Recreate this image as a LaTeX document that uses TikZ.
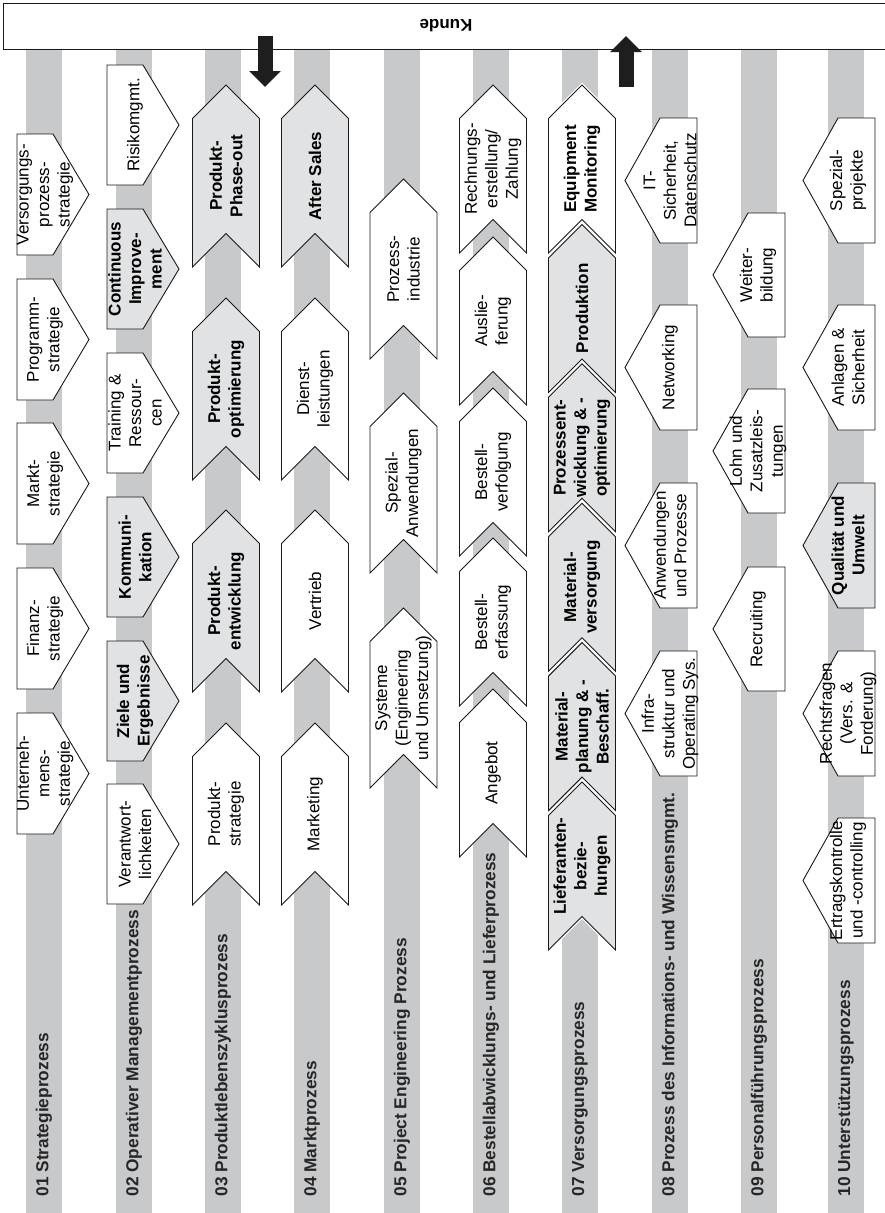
\documentclass[tikz,border=0pt]{standalone}
\usepackage{fontspec}
\setmainfont{Liberation Sans}
\usetikzlibrary{arrows.meta}
\definecolor{lanegray}{RGB}{200,201,203}
\definecolor{boxgray}{RGB}{225,226,228}
\definecolor{arrowblack}{RGB}{30,30,30}
\newcommand{\boxfont}{\fontsize{17}{20.5}\selectfont}
\tikzset{
  every picture/.style={line width=0.9pt},
  lane/.style={fill=lanegray},
  lanelab/.style={rotate=90, anchor=west, inner sep=0pt, text=black!85,
                  font=\fontsize{17.3}{20}\selectfont\bfseries},
  pbox/.style={draw=black!90, line join=miter},
  tight/.style={preaction={draw=white, line width=3.5pt}},
  boxw/.style={fill=white},
  boxg/.style={fill=boxgray},
  boxb/.style={fill=white},
  boxgt/.style={boxg, tight},
  boxbt/.style={boxb, tight},
  ptext/.style={rotate=90, align=center, inner sep=0pt, font=\boxfont},
  txtw/.style={},
  txtg/.style={font=\boxfont\bfseries},
  txtb/.style={font=\boxfont\bfseries},
  txtgt/.style={txtg},
  txtbt/.style={txtb},
  kundebox/.style={draw=black!90, fill=white, minimum width=886pt,
                   minimum height=46pt, rotate=180,
                   font=\fontsize{17}{20}\selectfont\bfseries},
  blockarr/.style={draw=arrowblack, line width=15pt,
                   -{Triangle[width=31pt,length=16pt]}},
}
% chevron pointing up: [style]{name}{x centre}{apex y}{height}{text}
\newcommand{\chev}[6][w]{%
  \draw[pbox,box#1] (#3-33.5,#4+33.5) -- (#3,#4) -- (#3+33.5,#4+33.5)
    -- (#3+33.5,#4+#5) -- (#3,#4+#5-33.5) -- (#3-33.5,#4+#5) -- cycle;
  \node[ptext,txt#1] (#2) at (#3,#4+#5/2) {#6};}
% pentagon pointing right: [style]{name}{left x}{top y}{height}{text}
\newcommand{\penr}[6][w]{%
  \draw[pbox,box#1] (#3,#4) -- (#3+36,#4) -- (#3+72,#4+#5/2)
    -- (#3+36,#4+#5) -- (#3,#4+#5) -- cycle;
  \node[ptext,txt#1] (#2) at (#3+28,#4+#5/2) {#6};}
% pentagon pointing left: [style]{name}{right x}{top y}{height}{text}
\newcommand{\penl}[6][w]{%
  \draw[pbox,box#1] (#3,#4) -- (#3-37,#4) -- (#3-72,#4+#5/2)
    -- (#3-37,#4+#5) -- (#3,#4+#5) -- cycle;
  \node[ptext,txt#1] (#2) at (#3-27,#4+#5/2) {#6};}

\begin{document}
\begin{tikzpicture}[x=1pt,y=-1pt]
\useasboundingbox (0,0) rectangle (885,1213);

% lanes
\fill[lane] (26,49) rectangle (62,1213);
\fill[lane] (116,49) rectangle (152,1213);
\fill[lane] (205,49) rectangle (241,1213);
\fill[lane] (294,49) rectangle (330,1213);
\fill[lane] (384,49) rectangle (420,1213);
\fill[lane] (473,49) rectangle (509,1213);
\fill[lane] (562,49) rectangle (598,1213);
\fill[lane] (652,49) rectangle (688,1213);
\fill[lane] (741,49) rectangle (777,1213);
\fill[lane] (828,49) rectangle (864,1213);

% customer
\node[kundebox] (kunde) at (446,26) {Kunde};
\coordinate (dntop) at (265,36);
\coordinate (dntip) at (265,87);
\coordinate (upfoot) at (626,87);
\coordinate (uptip) at (626,36);
\draw[blockarr] (dntop) -- (dntip);
\draw[blockarr] (upfoot) -- (uptip);

% 01
\penr{s1}{17}{134}{121}{Versorgungs-\\prozess-\\strategie}
\penr{s2}{17}{279}{121}{Programm-\\strategie}
\penr{s3}{17}{423}{121}{Markt-\\strategie}
\penr{s4}{17}{568}{121}{Finanz-\\strategie}
\penr{s5}{17}{713}{121}{Unterneh-\\mens-\\strategie}
% 02
\penr{m1}{107}{65}{120}{Risikomgmt.}
\penr[g]{m2}{107}{209}{120}{Continuous\\Improve-\\ment}
\penr{m3}{107}{353}{120}{Training \&\\Ressour-\\cen}
\penr[g]{m4}{107}{497}{120}{Kommuni-\\kation}
\penr[g]{m5}{107}{641}{120}{Ziele und\\Ergebnisse}
\penr{m6}{107}{784}{120}{Verantwort-\\lichkeiten}
% 03
\chev[g]{p1}{226}{85}{182}{Produkt-\\Phase-out}
\chev[g]{p2}{226}{298}{182}{Produkt-\\optimierung}
\chev[g]{p3}{226}{510}{182}{Produkt-\\entwicklung}
\chev{p4}{226}{723}{182}{Produkt-\\strategie}
% 04
\chev[g]{k1}{315}{85}{182}{After Sales}
\chev{k2}{315}{298}{182}{Dienst-\\leistungen}
\chev{k3}{315}{510}{182}{Vertrieb}
\chev{k4}{315}{723}{182}{Marketing}
% 05
\chev{e1}{403.5}{179}{180}{Prozess-\\industrie}
\chev{e2}{403.5}{393}{180}{Spezial-\\Anwendungen}
\chev{e3}{403.5}{608}{180}{Systeme\\(Engineering\\und Umsetzung)}
% 06
\chev{b1}{493}{85}{168}{Rechnungs-\\erstellung/\\Zahlung}
\chev{b2}{493}{237}{168}{Auslie-\\ferung}
\chev{b3}{493}{388}{168}{Bestell-\\verfolgung}
\chev{b4}{493}{538}{168}{Bestell-\\erfassung}
\chev{b5}{493}{689}{168}{Angebot}
% 07
\chev[bt]{v1}{582}{85}{168}{Equipment\\Monitoring}
\chev[gt]{v2}{582}{224.4}{168}{Produktion}
\chev[gt]{v3}{582}{363.8}{168}{Prozessent-\\wicklung \& -\\optimierung}
\chev[gt]{v4}{582}{503.2}{168}{Material-\\versorgung}
\chev[gt]{v5}{582}{642.6}{168}{Material-\\planung \& -\\Beschaff.}
\chev[gt]{v6}{582}{782}{168}{Lieferanten-\\bezie-\\hungen}
% 08
\penl{i1}{697}{118}{125}{IT-\\Sicherheit,\\Datenschutz}
\penl{i2}{697}{305}{125}{Networking}
\penl{i3}{697}{483}{125}{Anwendungen\\und Prozesse}
\penl{i4}{697}{651}{125}{Infra-\\struktur und\\Operating Sys.}
% 09
\penl{h1}{785}{213}{124}{Weiter-\\bildung}
\penl{h2}{785}{389}{124}{Lohn und\\Zusatzleis-\\tungen}
\penl{h3}{785}{567}{124}{Recruiting}
% 10
\penl{u1}{875}{118}{125}{Spezial-\\projekte}
\penl{u2}{875}{305}{125}{Anlagen \&\\Sicherheit}
\penl[g]{u3}{875}{483}{125}{Qualität und\\Umwelt}
\penl{u4}{875}{651}{125}{Rechtsfragen\\(Vers. \&\\Forderung)}
\penl{u5}{875}{818}{125}{Ertragskontrolle\\und -controlling}

% lane titles
\node[lanelab] (l01) at (44,1197) {01 Strategieprozess};
\node[lanelab] (l02) at (134,1197) {02 Operativer Managementprozess};
\node[lanelab] (l03) at (223,1197) {03 Produktlebenszyklusprozess};
\node[lanelab] (l04) at (312,1197) {04 Marktprozess};
\node[lanelab] (l05) at (402,1197) {05 Project Engineering Prozess};
\node[lanelab] (l06) at (491,1197) {06 Bestellabwicklungs- und Lieferprozess};
\node[lanelab] (l07) at (580,1197) {07 Versorgungsprozess};
\node[lanelab] (l08) at (670,1197) {08 Prozess des Informations- und Wissensmgmt.};
\node[lanelab] (l09) at (759,1197) {09 Personalführungsprozess};
\node[lanelab] (l10) at (846,1197) {10 Unterstützungsprozess};
\end{tikzpicture}
\end{document}
